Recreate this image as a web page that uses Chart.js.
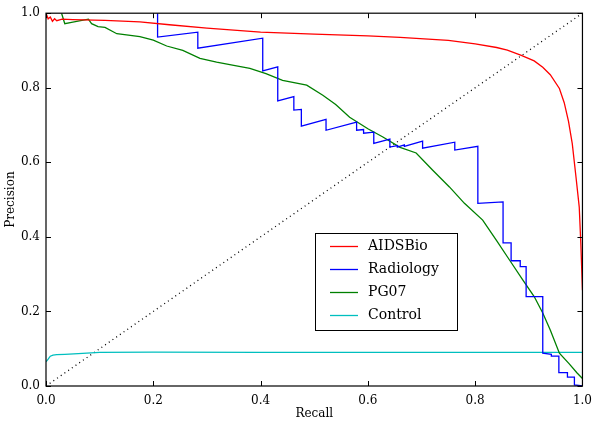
<!DOCTYPE html>
<html>
<head>
<meta charset="utf-8">
<script src="https://cdn.jsdelivr.net/npm/chart.js@4/dist/chart.umd.min.js"></script>
<style>
  body { margin: 0; background: #fff; }
  canvas { display: block; }
</style>
</head>
<body>
<canvas id="prChart" width="600" height="425"></canvas>
<script>
// recall / precision punten
var redRecall = [0, 0.004, 0.008, 0.012, 0.016, 0.02, 0.03, 0.05, 0.11, 0.175, 0.23, 0.3, 0.4, 0.5, 0.6, 0.66, 0.75, 0.8, 0.84, 0.86, 0.886, 0.91, 0.926, 0.94, 0.957, 0.966, 0.974, 0.981, 0.988, 0.994, 0.997, 1.0];
var redPrecision = [1.0, 0.985, 0.99, 0.978, 0.985, 0.98, 0.984, 0.983, 0.981, 0.977, 0.969, 0.96, 0.949, 0.944, 0.939, 0.935, 0.927, 0.918, 0.908, 0.901, 0.887, 0.872, 0.855, 0.835, 0.798, 0.76, 0.71, 0.65, 0.56, 0.48, 0.38, 0.257];

var blueRecall = [0.208, 0.208, 0.283, 0.283, 0.404, 0.404, 0.432, 0.432, 0.462, 0.462, 0.476, 0.476, 0.522, 0.522, 0.579, 0.579, 0.592, 0.592, 0.611, 0.611, 0.641, 0.641, 0.655, 0.655, 0.668, 0.668, 0.702, 0.702, 0.762, 0.762, 0.805, 0.805, 0.852, 0.852, 0.867, 0.867, 0.884, 0.884, 0.895, 0.895, 0.926, 0.926, 0.942, 0.942, 0.956, 0.956, 0.972, 0.972, 0.985, 0.985, 1.0];
var bluePrecision = [1.0, 0.936, 0.949, 0.906, 0.933, 0.845, 0.856, 0.765, 0.776, 0.74, 0.742, 0.697, 0.715, 0.686, 0.708, 0.686, 0.688, 0.678, 0.681, 0.651, 0.662, 0.641, 0.645, 0.641, 0.647, 0.643, 0.657, 0.638, 0.654, 0.633, 0.643, 0.49, 0.494, 0.384, 0.384, 0.336, 0.336, 0.32, 0.32, 0.24, 0.24, 0.088, 0.085, 0.08, 0.08, 0.036, 0.036, 0.024, 0.024, 0.003, 0.0];

var greenRecall = [0.029, 0.035, 0.05, 0.079, 0.085, 0.097, 0.11, 0.132, 0.15, 0.175, 0.2, 0.225, 0.255, 0.287, 0.318, 0.35, 0.38, 0.41, 0.441, 0.486, 0.516, 0.54, 0.566, 0.6, 0.628, 0.66, 0.69, 0.72, 0.752, 0.78, 0.814, 0.84, 0.864, 0.889, 0.91, 0.926, 0.94, 0.957, 0.975, 0.99, 1.0];
var greenPrecision = [1.0, 0.972, 0.976, 0.984, 0.972, 0.964, 0.962, 0.945, 0.942, 0.937, 0.928, 0.912, 0.9, 0.879, 0.869, 0.86, 0.852, 0.838, 0.82, 0.807, 0.78, 0.755, 0.721, 0.69, 0.668, 0.64, 0.625, 0.58, 0.534, 0.49, 0.445, 0.39, 0.338, 0.284, 0.24, 0.196, 0.15, 0.088, 0.06, 0.035, 0.02];

var cyanRecall = [0, 0.004, 0.008, 0.013, 0.02, 0.035, 0.06, 0.1, 0.2, 0.4, 0.6, 0.8, 1.0];
var cyanPrecision = [0.065, 0.072, 0.08, 0.083, 0.084, 0.085, 0.087, 0.09, 0.091, 0.09, 0.09, 0.09, 0.09];

var diagRecall = [0, 1];
var diagPrecision = [0, 1];

var seriesNames = ['AIDSBio', 'Radiology', 'PG07', 'Control'];
var tickValues = [0, 0.2, 0.4, 0.6, 0.8, 1.0];

// x- en y-array samenvoegen tot punten
function toPoints(xs, ys) {
    return xs.map(function (x, i) { return { x: x, y: ys[i] }; });
}

function lijn(label, xs, ys, kleur) {
    return {
        label: label,
        data: toPoints(xs, ys),
        borderColor: kleur,
        backgroundColor: kleur,
        borderWidth: 1.3,
        pointRadius: 0,
        tension: 0,
        fill: false
    };
}

var serif = 'DejaVu Serif';

// kader, tickstreepjes naar binnen en legenda zelf tekenen (matplotlib-stijl)
var matplotlibLook = {
    id: 'matplotlibLook',
    afterDatasetsDraw: function (chart) {
        var c = chart.ctx, a = chart.chartArea;
        var xs = chart.scales.x, ys = chart.scales.y;
        c.save();
        c.strokeStyle = '#000';
        c.lineWidth = 1;
        c.beginPath();
        tickValues.forEach(function (v) {
            var px = Math.round(xs.getPixelForValue(v)) + 0.5;
            var py = Math.round(ys.getPixelForValue(v)) + 0.5;
            c.moveTo(px, a.bottom); c.lineTo(px, a.bottom - 5);
            c.moveTo(px, a.top); c.lineTo(px, a.top + 5);
            c.moveTo(a.left, py); c.lineTo(a.left + 5, py);
            c.moveTo(a.right, py); c.lineTo(a.right - 5, py);
        });
        c.stroke();
        c.lineWidth = 1.2;
        c.strokeRect(a.left, a.top, a.right - a.left, a.bottom - a.top);

        // legenda
        var bx = 315.5, by = 233.5, bw = 142, bh = 97;
        c.fillStyle = '#fff';
        c.fillRect(bx, by, bw, bh);
        c.lineWidth = 1;
        c.strokeRect(bx, by, bw, bh);
        c.font = '14px "' + serif + '"';
        c.textBaseline = 'middle';
        c.textAlign = 'left';
        var rows = [246, 269, 292, 315];
        chart.data.datasets.forEach(function (ds, i) {
            if (seriesNames.indexOf(ds.label) < 0) return;
            var y = rows[i] + 0.5;
            c.strokeStyle = ds.borderColor;
            c.lineWidth = 1.3;
            c.beginPath();
            c.moveTo(330, y); c.lineTo(358, y);
            c.stroke();
            c.fillStyle = '#000';
            c.fillText(ds.label, 368, rows[i]);
        });
        c.restore();
    }
};

var ctx = document.getElementById('prChart').getContext('2d');

new Chart(ctx, {
    type: 'line',
    data: {
        datasets: [
            lijn(seriesNames[0], redRecall, redPrecision, '#ff0000'),
            lijn(seriesNames[1], blueRecall, bluePrecision, '#0000ff'),
            lijn(seriesNames[2], greenRecall, greenPrecision, '#008000'),
            lijn(seriesNames[3], cyanRecall, cyanPrecision, '#00bfbf'),
            Object.assign(lijn('', diagRecall, diagPrecision, '#000'), { borderDash: [1, 3.5], borderWidth: 1.3 })
        ]
    },
    options: {
        responsive: false,
        animation: false,
        devicePixelRatio: 1,
        layout: { padding: { top: 13, right: 17, left: 0, bottom: 0 } },
        plugins: {
            legend: { display: false },
            tooltip: { enabled: false }
        },
        scales: {
            x: {
                type: 'linear',
                min: 0,
                max: 1,
                grid: { display: false, drawTicks: false },
                border: { display: false },
                afterFit: function (s) { s.height = 39; },
                afterBuildTicks: function (s) { s.ticks = tickValues.map(function (v) { return { value: v }; }); },
                ticks: {
                    padding: 8,
                    color: '#000',
                    font: { family: serif, size: 12 },
                    maxRotation: 0,
                    callback: function (v) { return Number(v).toFixed(1); }
                },
                title: {
                    display: true,
                    text: 'Recall',
                    color: '#000',
                    font: { family: serif, size: 12 },
                    padding: { top: 0, bottom: 4 }
                }
            },
            y: {
                type: 'linear',
                min: 0,
                max: 1,
                grid: { display: false, drawTicks: false },
                border: { display: false },
                afterFit: function (s) { s.width = 46; },
                afterBuildTicks: function (s) { s.ticks = tickValues.map(function (v) { return { value: v }; }); },
                ticks: {
                    padding: 6,
                    color: '#000',
                    font: { family: serif, size: 12 },
                    callback: function (v) { return Number(v).toFixed(1); }
                },
                title: {
                    display: true,
                    text: 'Precision',
                    color: '#000',
                    font: { family: serif, size: 12 },
                    padding: { top: 4, bottom: 0 }
                }
            }
        }
    },
    plugins: [matplotlibLook]
});
</script>
</body>
</html>
